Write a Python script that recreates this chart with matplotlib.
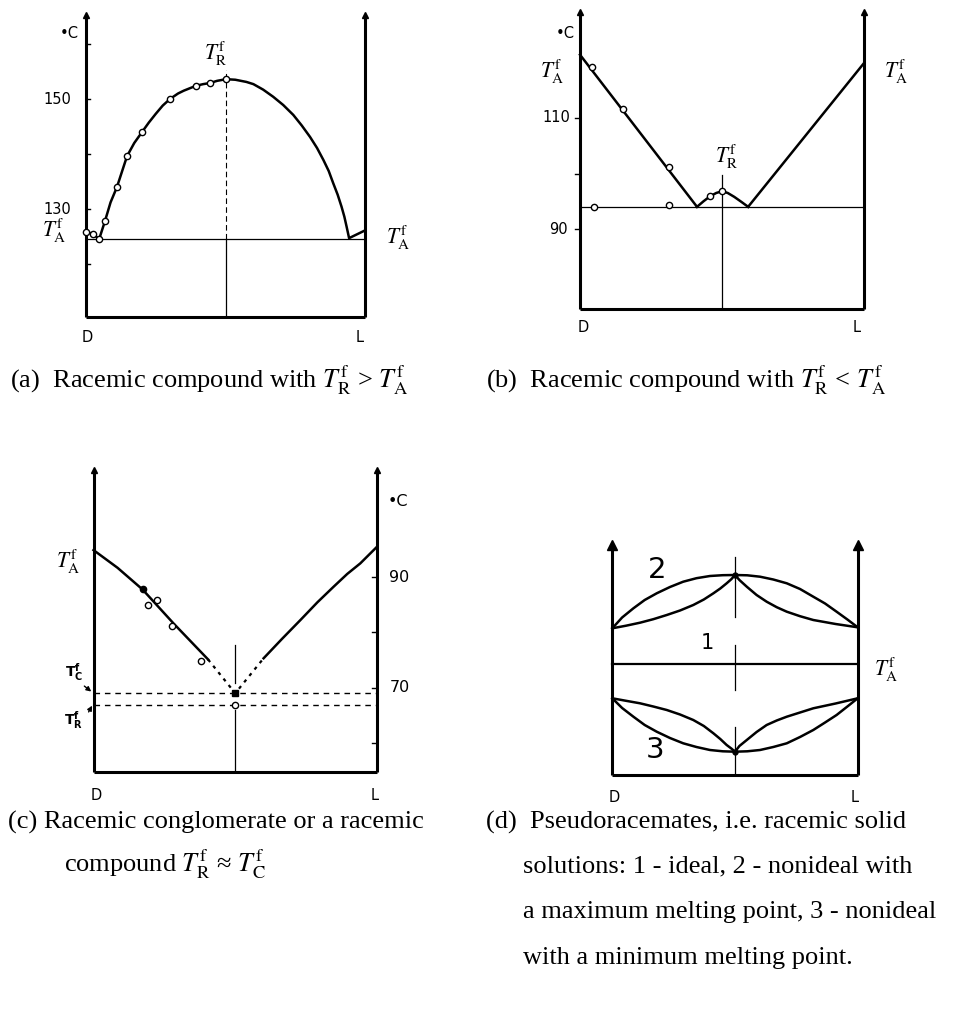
import matplotlib.pyplot as plt

plt.rcParams['mathtext.fontset'] = 'stix'

# (a) racemic compound melting above the pure enantiomer
a_curve_x = [0, 2.5, 4.7, 6.8, 8.8, 11.1, 14.7, 17.3, 20.1, 22.5, 25.0, 27.5, 30.1, 33.0, 35.0,
             39.4, 42.0, 44.4, 47.0, 50.2, 53.5, 57.5, 60.0, 63.5, 67.1, 70.7, 74.3, 77.3, 80.3,
             82.8, 85.1, 87.0, 88.6, 90.2, 91.6, 92.6, 93.4, 94.3, 100]
a_curve_t = [125.8, 125.5, 124.5, 127.8, 131.2, 134.0, 139.6, 142.0, 144.0, 145.7, 147.3, 148.8, 150.0, 151.0, 151.5,
             152.4, 152.7, 152.9, 153.3, 153.6, 153.5, 153.1, 152.7, 151.7, 150.4, 148.9, 147.1, 145.2, 143.1,
             141.1, 138.9, 136.9, 134.7, 132.6, 130.4, 128.6, 126.8, 124.7, 126.1]
a_pts_x = [0, 2.5, 4.7, 6.8, 11.1, 14.7, 20.1, 30.1, 39.4, 44.4, 50.2]
a_pts_t = [125.8, 125.5, 124.5, 127.8, 134.0, 139.6, 144.0, 150.0, 152.4, 152.9, 153.6]
a_eutectic = 124.5
a_ticks = [120, 130, 140, 150, 160]
a_ticklabels = ['', '130', '', '150', '']

# (b) racemic compound melting below the pure enantiomer
b_left_x = [0, 41.2]
b_left_t = [121.4, 94.0]
b_dome_x = [41.2, 43.5, 45.8, 48.0, 50.0, 52.0, 54.3, 56.8, 59.2]
b_dome_t = [94.0, 95.0, 95.9, 96.5, 96.8, 96.5, 95.8, 94.9, 94.0]
b_right_x = [59.2, 100]
b_right_t = [94.0, 119.9]
b_pts_x = [4.2, 15.1, 31.3, 45.8, 50.0, 4.9, 31.3]
b_pts_t = [119.2, 111.6, 101.2, 95.9, 96.8, 94.0, 94.3]
b_eutectic = 94.0
b_ticks = [90, 100, 110]
b_ticklabels = ['90', '', '110']

# (c) conglomerate / compound with nearly equal melting points
c_left_x = [0, 8.5, 17.3, 28.2, 40.4]
c_left_t = [94.8, 91.6, 87.7, 81.6, 75.1]
c_dot_x = [40.4, 50.0, 60.0]
c_dot_t = [75.1, 69.0, 75.3]
c_right_x = [60.0, 66.5, 73.0, 79.0, 84.7, 89.5, 94.1, 100]
c_right_t = [75.3, 78.8, 82.2, 85.4, 88.2, 90.5, 92.4, 95.4]
c_pts_x = [19.3, 22.5, 27.8, 38.0]
c_pts_t = [84.9, 85.8, 81.1, 74.9]
c_tc = 69.0
c_tr = 66.9
c_ticks = [60, 70, 80, 90]
c_ticklabels = ['', '70', '', '90']

# (d) pseudoracemates (arbitrary temperature units)
d_ta = 11.1
d2_outer_x = [0, 4.0, 8.6, 13.2, 18.1, 23.5, 28.9, 34.3, 39.8, 45.0, 50,
              55.0, 60.2, 65.6, 71.1, 76.5, 81.9, 86.7, 91.4, 95.8, 100]
d2_outer_t = [14.67, 15.75, 16.67, 17.5, 18.17, 18.8, 19.33, 19.68, 19.9, 19.98, 20.0,
              19.97, 19.83, 19.55, 19.17, 18.6, 17.83, 17.15, 16.33, 15.55, 14.77]
d2_inner_x = [0, 5.6, 11.3, 16.7, 22.2, 27.6, 33.0, 37.3, 41.2, 44.0, 46.6, 48.5, 50,
              51.8, 54.8, 58.8, 62.9, 67.0, 71.1, 76.5, 81.9, 91.0, 100]
d2_inner_t = [14.67, 14.93, 15.23, 15.58, 16.0, 16.45, 17.0, 17.55, 18.17, 18.65, 19.17, 19.58, 20.0,
              19.5, 18.83, 18.0, 17.33, 16.78, 16.33, 15.88, 15.5, 15.1, 14.77]
d3_outer_x = [0, 4.0, 8.6, 13.2, 18.1, 23.5, 28.9, 34.3, 39.8, 45.0, 50,
              55.0, 60.2, 65.6, 71.1, 76.5, 81.9, 86.7, 91.4, 95.8, 100]
d3_outer_t = [7.67, 6.7, 5.83, 5.0, 4.33, 3.7, 3.17, 2.8, 2.5, 2.37, 2.33,
              2.37, 2.5, 2.8, 3.17, 3.8, 4.5, 5.25, 6.0, 6.85, 7.67]
d3_inner_x = [0, 5.6, 11.3, 16.7, 22.2, 27.6, 33.0, 37.3, 41.2, 44.0, 46.6, 48.5, 50,
              51.8, 54.8, 58.8, 62.9, 67.0, 71.1, 76.5, 81.9, 91.0, 100]
d3_inner_t = [7.67, 7.42, 7.17, 6.85, 6.5, 6.05, 5.5, 4.9, 4.17, 3.6, 3.0, 2.65, 2.33,
              2.9, 3.5, 4.3, 5.0, 5.45, 5.83, 6.25, 6.67, 7.15, 7.67]

W, H = 974, 1009
fig = plt.figure(figsize=(W / 100, H / 100), dpi=100)


def panel(x0, x1, ytop, ybot, tlo, thi):
    ax = fig.add_axes([x0 / W, 1 - ybot / H, (x1 - x0) / W, (ybot - ytop) / H])
    ax.set_xlim(0, 100)
    ax.set_ylim(tlo, thi)
    ax.axis('off')
    return ax


def frame(ax, tlo, thi, head=4):
    kw = dict(color='black', lw=2.2, clip_on=False, solid_capstyle='butt')
    ax.plot([0, 0], [tlo, thi], **kw)
    ax.plot([100, 100], [tlo, thi], **kw)
    ax.plot([0, 100], [tlo, tlo], **kw)
    ax.plot([0, 100], [thi, thi], ls='none', marker='^', ms=head, color='black', clip_on=False)


def put(x, y, s, **kw):
    kw.setdefault('ha', 'center')
    kw.setdefault('va', 'center')
    fig.text(x / W, 1 - y / H, s, **kw)


def tlabel(x, y, sub, size=15.5):
    put(x, y, r'$T_{\mathrm{%s}}^{\mathrm{f}}$' % sub, fontsize=size)


curve = dict(color='black', lw=1.8, clip_on=False, solid_joinstyle='round')
thin = dict(color='black', lw=0.9, clip_on=False)
opn = dict(ls='none', marker='o', ms=4.5, mfc='white', mec='black', mew=1.0, clip_on=False)
sans = dict(family='DejaVu Sans', fontsize=10.5)

# ---- (a)
ta0, ta1 = 110.36, 165.27
ax = panel(86, 365, 15, 317, ta0, ta1)
frame(ax, ta0, ta1)
for t in a_ticks:
    ax.plot([0, 1.6], [t, t], color='black', lw=1.0, clip_on=False)
ax.plot([0, 100], [a_eutectic, a_eutectic], **thin)
ax.plot([50.2, 50.2], [a_eutectic, 155.3], color='black', lw=0.8, ls=(0, (5, 3)))
ax.plot([50.2, 50.2], [ta0, a_eutectic], **thin)
ax.plot(a_curve_x, a_curve_t, **curve)
ax.plot(a_pts_x, a_pts_t, **opn)
put(69, 33, '•C', **sans)
put(57, 99, a_ticklabels[3], **sans)
put(57, 209, a_ticklabels[1], **sans)
tlabel(54, 231, 'A')
tlabel(216, 54, 'R')
tlabel(398, 238, 'A')
put(87, 337, 'D', **sans)
put(360, 337, 'L', **sans)

# ---- (b)
tb0, tb1 = 75.59, 129.10
ax = panel(580, 864, 12, 309, tb0, tb1)
frame(ax, tb0, tb1)
for t in b_ticks:
    ax.plot([-1.8, 0], [t, t], color='black', lw=1.0, clip_on=False)
ax.plot([0, 100], [b_eutectic, b_eutectic], **thin)
ax.plot([50, 50], [tb0, 99.7], **thin)
ax.plot(b_left_x, b_left_t, **curve)
ax.plot(b_dome_x, b_dome_t, **curve)
ax.plot(b_right_x, b_right_t, **curve)
ax.plot(b_pts_x, b_pts_t, **opn)
put(565, 33, '•C', **sans)
put(556, 118, b_ticklabels[2], **sans)
put(558, 229, b_ticklabels[0], **sans)
tlabel(552, 72, 'A')
tlabel(896, 72, 'A')
tlabel(727, 157, 'R')
put(583, 328, 'D', **sans)
put(857, 328, 'L', **sans)

# ---- (c)
tc0, tc1 = 54.81, 109.23
ax = panel(93.5, 377, 470, 772, tc0, tc1)
frame(ax, tc0, tc1)
for t in c_ticks:
    ax.plot([98.4, 100], [t, t], color='black', lw=1.0, clip_on=False)
dash = dict(color='black', lw=1.0, ls=(0, (4, 3.5)), clip_on=False)
ax.plot([0, 100], [c_tc, c_tc], **dash)
ax.plot([0, 100], [c_tr, c_tr], **dash)
ax.plot([50, 50], [70.8, 77.7], **thin)
ax.plot([50, 50], [tc0, 66.0], **thin)
ax.plot(c_left_x, c_left_t, **curve)
ax.plot(c_right_x, c_right_t, **curve)
ax.plot(c_dot_x, c_dot_t, color='black', lw=1.6, ls=(0, (1.5, 2.2)), clip_on=False)
ax.plot(c_pts_x, c_pts_t, **opn)
ax.plot([17.5], [87.8], ls='none', marker='o', ms=4.5, color='black', clip_on=False)
ax.plot([50], [c_tc], ls='none', marker='s', ms=4, color='black', clip_on=False)
ax.plot([50], [c_tr], **opn)
put(398, 502, '•C', fontsize=11.5, family='DejaVu Sans')
put(399, 577, c_ticklabels[3], fontsize=11.5, family='DejaVu Sans')
put(400, 688, c_ticklabels[1], fontsize=11.5, family='DejaVu Sans')
tlabel(68, 562, 'A')
put(74, 672, r'$\mathbf{T}^{\mathbf{f}}_{\mathbf{C}}$', fontsize=10, math_fontfamily='dejavusans')
put(73, 720, r'$\mathbf{T}^{\mathbf{f}}_{\mathbf{R}}$', fontsize=10, math_fontfamily='dejavusans')
ax.annotate('', xy=(0, c_tc), xytext=(-4.0, 70.6),
            arrowprops=dict(arrowstyle='-|>', color='black', lw=1.0, mutation_scale=7))
ax.annotate('', xy=(0, c_tr + 0.3), xytext=(-2.2, 65.2),
            arrowprops=dict(arrowstyle='-|>', color='black', lw=1.0, mutation_scale=7))
put(96, 796, 'D', **sans)
put(375, 796, 'L', **sans)

# ---- (d)
ax = panel(612.3, 857.7, 545, 775, 0, 23)
frame(ax, 0, 23, head=7)
ax.plot([0, 100], [d_ta, d_ta], color='black', lw=1.6, clip_on=False)
ax.plot([50, 50], [15.8, 21.8], **thin)
ax.plot([50, 50], [8.5, 13.0], **thin)
ax.plot([50, 50], [0, 4.8], **thin)
ax.plot(d2_outer_x, d2_outer_t, **curve)
ax.plot(d2_inner_x, d2_inner_t, **curve)
ax.plot(d3_outer_x, d3_outer_t, **curve)
ax.plot(d3_inner_x, d3_inner_t, **curve)
ax.plot([50, 50], [20.0, 2.33], ls='none', marker='o', ms=3.5, color='black', clip_on=False)
put(657, 570, '2', fontsize=21, family='DejaVu Sans')
put(707, 643, '1', fontsize=15, family='DejaVu Sans')
put(655, 750, '3', fontsize=21, family='DejaVu Sans')
tlabel(886, 670, 'A')
put(614, 797, 'D', **sans)
put(855, 797, 'L', **sans)

# ---- captions
cap = dict(family='Liberation Serif', fontsize=19, ha='left')
put(10, 380, r'(a)  Racemic compound with $T_{\mathrm{R}}^{\mathrm{f}}$ > $T_{\mathrm{A}}^{\mathrm{f}}$', **cap)
put(486, 380, r'(b)  Racemic compound with $T_{\mathrm{R}}^{\mathrm{f}}$ < $T_{\mathrm{A}}^{\mathrm{f}}$', **cap)
put(8, 822, '(c) Racemic conglomerate or a racemic', **cap)
put(64, 864, r'compound $T_{\mathrm{R}}^{\mathrm{f}}$ ≈ $T_{\mathrm{C}}^{\mathrm{f}}$', **cap)
put(486, 822, '(d)  Pseudoracemates, i.e. racemic solid', **cap)
put(523, 866, 'solutions: 1 - ideal, 2 - nonideal with', **cap)
put(523, 912, 'a maximum melting point, 3 - nonideal', **cap)
put(523, 958, 'with a minimum melting point.', **cap)

fig.savefig('out.png', dpi=100)
